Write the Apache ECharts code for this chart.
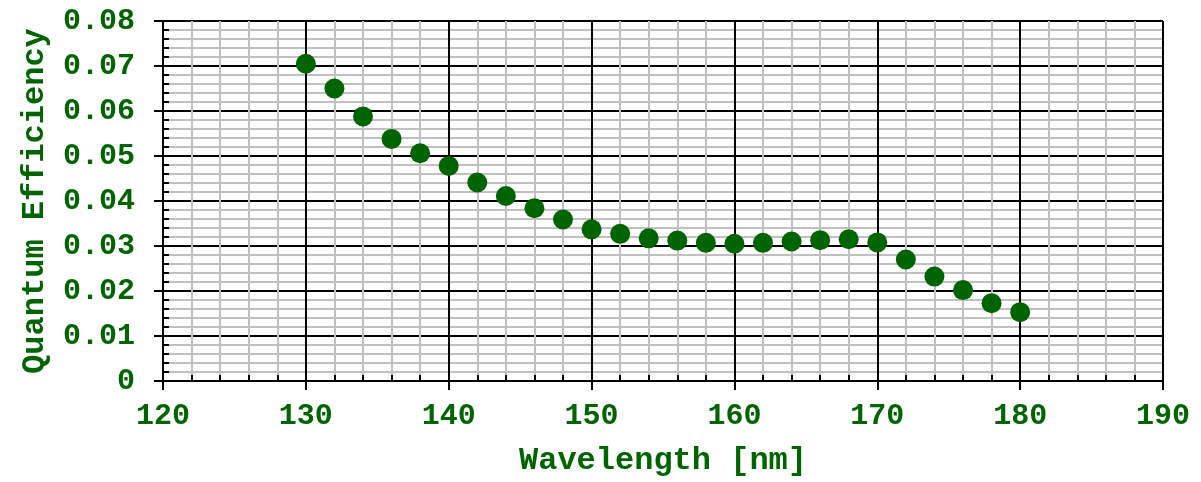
<!DOCTYPE html>
<html><head><meta charset="utf-8">
<script src="https://cdn.jsdelivr.net/npm/echarts@6/dist/echarts.min.js"></script>
<style>html,body{margin:0;padding:0;background:#fff}#c{width:1201px;height:482px}</style>
</head><body><div id="c"></div>
<script>
const wavelengths = [130,132,134,136,138,140,142,144,146,148,150,152,154,156,158,160,162,164,166,168,170,172,174,176,178,180];
const efficiency = [0.0705,0.0650,0.0588,0.0538,0.0506,0.0478,0.0441,0.0411,0.0384,0.0359,0.0337,0.0327,0.0317,0.0312,0.0307,0.0305,0.0307,0.0310,0.0313,0.0315,0.0308,0.0270,0.0232,0.0202,0.0173,0.0153];
const xTicks = [120,130,140,150,160,170,180,190];
const yTicks = [0,0.01,0.02,0.03,0.04,0.05,0.06,0.07,0.08];

const green = '#006400';
const font = '"Liberation Mono", "Courier New", monospace';
const chart = echarts.init(document.getElementById('c'));
const axisCommon = {
  axisLine: {show: true, lineStyle: {color: '#000', width: 2}},
  axisTick: {show: true, length: 9, lineStyle: {color: '#000', width: 2}},
  minorTick: {show: true, splitNumber: 5, length: -6, lineStyle: {color: '#000', width: 2}},
  splitLine: {show: true, lineStyle: {color: '#000', width: 2}},
  minorSplitLine: {show: true, lineStyle: {color: '#c0c0c0', width: 2}},
  nameTextStyle: {color: green, fontFamily: font, fontWeight: 'bold', fontSize: 32}
};
chart.setOption({
  animation: false,
  grid: {left: 163, right: 38, top: 21, bottom: 95, containLabel: false},
  xAxis: Object.assign({}, axisCommon, {
    type: 'value', min: xTicks[0], max: xTicks[xTicks.length-1], interval: 10,
    name: 'Wavelength [nm]', nameLocation: 'middle', nameGap: 64,
    axisLabel: {color: green, fontFamily: font, fontWeight: 'bold', fontSize: 30, margin: 20,
      formatter: v => xTicks.includes(v) ? String(v) : ''}
  }),
  yAxis: Object.assign({}, axisCommon, {
    type: 'value', min: yTicks[0], max: yTicks[yTicks.length-1], interval: 0.01,
    name: 'Quantum Efficiency', nameLocation: 'middle', nameGap: 112,
    axisLabel: {color: green, fontFamily: font, fontWeight: 'bold', fontSize: 30, margin: 28,
      formatter: v => { const t = yTicks.find(y => Math.abs(y - v) < 1e-9); return t === undefined ? '' : String(t); }}
  }),
  series: [{
    type: 'scatter',
    data: wavelengths.map((w, i) => [w, efficiency[i]]),
    symbol: 'circle', symbolSize: 20,
    itemStyle: {color: green, opacity: 1}
  }]
});
</script></body></html>
